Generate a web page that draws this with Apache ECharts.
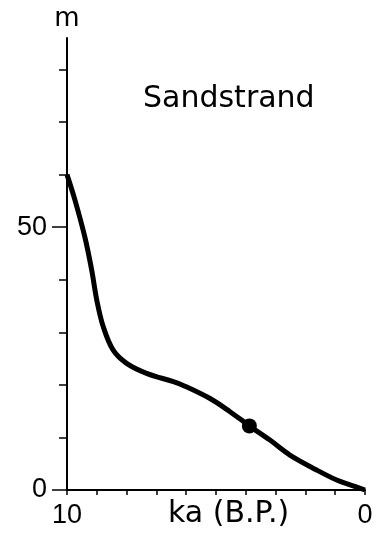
<!DOCTYPE html>
<html>
<head>
<meta charset="utf-8">
<script src="https://cdn.jsdelivr.net/npm/echarts@6/dist/echarts.min.js"></script>
<style>
  html, body { margin: 0; padding: 0; background: #fff; }
  #chart { width: 374px; height: 535px; }
</style>
</head>
<body>
<div id="chart"></div>
<script>
    // sea level curve, age in ka B.P. vs height in m
    var ages    = [10.0, 9.73, 9.40, 9.17, 9.00, 8.78, 8.45, 8.00, 7.33, 6.43, 6.10, 5.20, 4.53, 3.88, 3.19, 2.52, 1.62, 0.95, 0.45, 0];
    var heights = [60.0, 55.1, 48.1, 41.8, 36.1, 31.0, 26.6, 24.1, 22.2, 20.6, 19.9, 17.4, 14.9, 12.2, 9.5, 6.65, 3.8, 1.9, 0.9, 0];
    var dotPoint = [3.88, 12.2];

    var xTicks = [0, 1, 2, 3, 4, 5, 6, 7, 8, 9, 10];
    var xLabels = [0, 10];
    var yTicks = [0, 10, 20, 30, 40, 50, 60, 70, 80];
    var yLabels = [0, 50];

    var line = ages.map(function (a, i) { return [a, heights[i]]; });

    var myChart = echarts.init(document.getElementById('chart'));

    var numFont = { fontFamily: 'Liberation Sans', fontSize: 27, color: '#000' };

    option = {
        animation: false,
        grid: {
            left: 67,
            right: 9,
            top: 38,
            bottom: 45,
            containLabel: false,
            outerBoundsMode: 'none'
        },
        xAxis: {
            type: 'value',
            inverse: true,
            min: 0,
            max: 10,
            interval: 1,
            splitLine: { show: false },
            axisLine: { onZero: false, lineStyle: { color: '#000', width: 2 } },
            axisTick: { customValues: xTicks, length: 5, lineStyle: { color: '#000', width: 1.5 } },
            axisLabel: Object.assign({ customValues: xLabels, margin: 12 }, numFont)
        },
        yAxis: [{
            type: 'value',
            position: 'left',
            min: 0,
            max: 86,
            interval: 10,
            name: 'm',
            nameLocation: 'end',
            nameGap: 6,
            nameTextStyle: { fontFamily: 'DejaVu Sans', fontSize: 26, color: '#000', align: 'center' },
            splitLine: { show: false },
            axisLine: { onZero: false, lineStyle: { color: '#000', width: 2 } },
            axisTick: { customValues: yTicks, length: 8, lineStyle: { color: '#000', width: 1.5 } },
            axisLabel: Object.assign({ customValues: yLabels, margin: 20 }, numFont)
        }, {
            // longer ticks at the labelled values
            type: 'value',
            position: 'left',
            min: 0,
            max: 86,
            interval: 10,
            splitLine: { show: false },
            axisLine: { show: false, onZero: false },
            axisTick: { customValues: yLabels, length: 15, lineStyle: { color: '#000', width: 1.5 } },
            axisLabel: { show: false }
        }],
        graphic: [{
            type: 'text',
            left: 143,
            top: 84,
            style: { text: 'Sandstrand', font: '30px "DejaVu Sans"', fill: '#000' }
        }, {
            type: 'text',
            left: 168,
            top: 499,
            style: { text: 'ka (B.P.)', font: '30px "DejaVu Sans"', fill: '#000' }
        }],
        series: [{
            type: 'line',
            data: line,
            smooth: 0.35,
            symbol: 'none',
            lineStyle: { color: '#000', width: 5 },
            z: 3
        }, {
            type: 'scatter',
            data: [dotPoint],
            symbolSize: 15,
            itemStyle: { color: '#000', opacity: 1 },
            z: 4
        }]
    };

    myChart.setOption(option);
</script>
</body>
</html>
